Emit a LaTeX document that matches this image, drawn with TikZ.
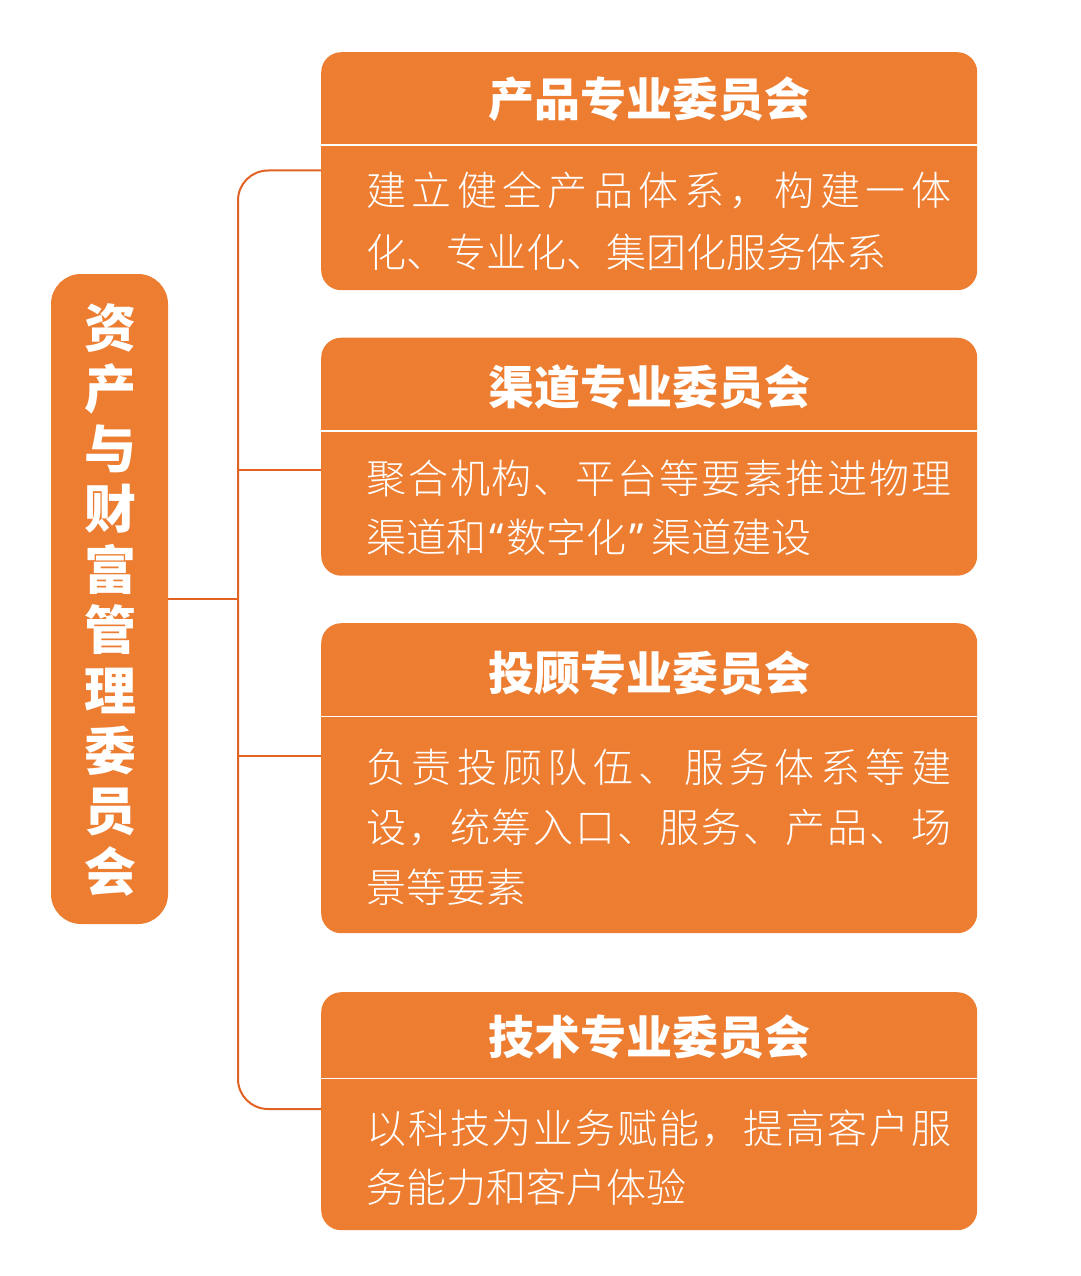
\documentclass[tikz,border=0pt]{standalone}
\usepackage{fontspec}
\setmainfont{Noto Sans CJK SC}
\IfFontExistsTF{Noto Sans CJK SC Light}
  {\newfontfamily\bodyfont{Noto Sans CJK SC Light}}
  {\newfontfamily\bodyfont{Noto Sans CJK SC}}
\newfontfamily\latinq{Noto Sans}
\definecolor{boxor}{RGB}{237,125,49}
\definecolor{lineor}{RGB}{226,98,36}
\def\sprdloop#1{\ifx#1\relax\else#1\hfill\expandafter\sprdloop\fi}
\newcommand\jline[1]{\makebox[585pt][s]{\sprdloop#1\relax\unskip}}
\newcommand\myopenq[1]{\makebox[18pt][r]{\latinq #1}\hspace{2pt}}
\newcommand\mycloseq[1]{\hspace{3pt}\makebox[22pt][l]{\latinq #1}}
\tikzset{
  panel/.style={fill=boxor, draw=none, rounded corners=20pt, minimum width=656pt, anchor=north west, inner sep=0pt},
  sidebox/.style={fill=boxor, draw=none, rounded corners=30pt, minimum width=117pt, minimum height=650pt, inner sep=0pt},
  divider/.style={draw=white, line width=1.8pt},
  conn/.style={draw=lineor, line width=2pt},
  ttl/.style={text=white, font=\fontsize{46}{50}\selectfont\bfseries, anchor=base, inner sep=0pt},
  body/.style={text=white, font=\bodyfont\fontsize{40}{59}\selectfont, anchor=base west, inner sep=0pt},
  sidetxt/.style={text=white, font=\fontsize{52}{60.4}\selectfont\bfseries, align=center, inner sep=0pt}
}
\begin{document}
\begin{tikzpicture}[x=1pt, y=-1pt]
\useasboundingbox (0,0) rectangle (1080,1276);
% left box
\node[sidebox] (lb) at (109.5,599) {};
\node[sidetxt] (lt) at (110,600) {资\\产\\与\\财\\富\\管\\理\\委\\员\\会};
% panels
\node[panel, minimum height=238pt] (b1) at (321,52) {};
\node[panel, minimum height=238pt] (b2) at (321,337.5) {};
\node[panel, minimum height=310pt] (b3) at (321,623) {};
\node[panel, minimum height=238pt] (b4) at (321,992) {};
% dividers
\draw[divider] (321,145) -- (977,145);
\draw[divider] (321,431) -- (977,431);
\draw[divider] (321,716.5) -- (977,716.5);
\draw[divider] (321,1078.5) -- (977,1078.5);
% titles
\node[ttl] (t1) at (649,117) {产品专业委员会};
\node[ttl] (t2) at (649,404) {渠道专业委员会};
\node[ttl] (t3) at (649,690) {投顾专业委员会};
\node[ttl] (t4) at (649,1054) {技术专业委员会};
% bodies
\node[body] (p11) at (366,205) {\jline{建立健全产品体系，构建一体}};
\node[body] (p12) at (366,267) {化、专业化、集团化服务体系};
\node[body] (p21) at (366,493) {\jline{聚合机构、平台等要素推进物理}};
\node[body] (p22) at (366,552) {渠道和\myopenq{“}数字化\mycloseq{”}渠道建设};
\node[body] (p31) at (366,782) {\jline{负责投顾队伍、服务体系等建}};
\node[body] (p32) at (366,842) {\jline{设，统筹入口、服务、产品、场}};
\node[body] (p33) at (366,902) {景等要素};
\node[body] (p41) at (366,1143) {\jline{以科技为业务赋能，提高客户服}};
\node[body] (p42) at (366,1202) {务能力和客户体验};
% connectors
\coordinate (bt) at (238,170.5);
\coordinate (bb) at (238,1109);
\draw[conn, rounded corners=30pt] (b1.west |- bt) -- (bt) -- (bb) -- (b4.west |- bb);
\draw[conn] (238,470) -- (b2.west |- 0,470);
\draw[conn] (238,756) -- (b3.west |- 0,756);
\draw[conn] (lb.east) -- (lb.east -| bt);
\end{tikzpicture}
\end{document}
